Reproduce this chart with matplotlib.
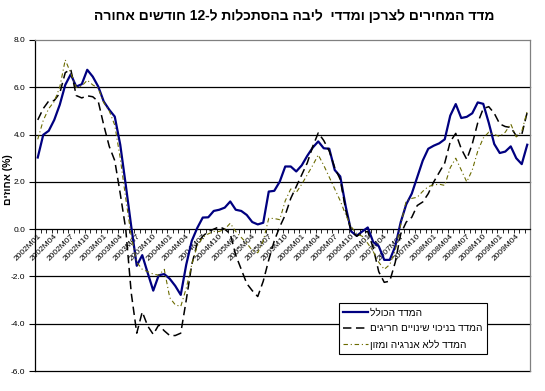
import re
import numpy as np
import matplotlib
matplotlib.use("Agg")
import matplotlib.pyplot as plt

plt.rcParams['font.family'] = ['Liberation Sans', 'DejaVu Sans']


def rtl(s):
    # matplotlib has no bidi: flip to visual order, keep numbers LTR, mirror brackets
    r = s[::-1]
    r = re.sub(r'\d+', lambda m: m.group(0)[::-1], r)
    return r.translate(str.maketrans('()', ')('))


# months 2002M01 .. 2009M06
months = [f"{y}M{m:02d}" for y in range(2002, 2010) for m in range(1, 13)][:90]

# overall CPI, 12-month change (%)
total = [3.03, 3.99, 4.16, 4.62, 5.26, 6.10, 6.55, 6.03, 6.13, 6.74,
         6.45, 6.03, 5.40, 5.05, 4.76, 3.57, 1.87, 0.11, -1.55, -1.10,
         -1.86, -2.60, -1.95, -1.90, -2.10, -2.40, -2.78, -1.50, -0.50, 0.05,
         0.49, 0.50, 0.77, 0.82, 0.91, 1.17, 0.82, 0.77, 0.60, 0.30,
         0.20, 0.27, 1.59, 1.62, 2.01, 2.65, 2.65, 2.44, 2.70, 3.10,
         3.45, 3.71, 3.42, 3.40, 2.50, 2.23, 0.95, -0.10, -0.28, -0.10,
         0.07, -0.55, -0.72, -1.30, -1.30, -0.73, 0.30, 1.05, 1.50, 2.20,
         2.90, 3.40, 3.53, 3.63, 3.80, 4.80, 5.29, 4.70, 4.75, 4.90,
         5.36, 5.30, 4.50, 3.60, 3.22, 3.28, 3.50, 3.00, 2.75, 3.57]

# CPI excluding extreme changes
excl = [4.62, 5.10, 5.42, 5.44, 5.75, 6.62, 6.76, 5.65, 5.55, 5.64,
        5.60, 5.40, 4.40, 3.50, 2.90, 1.50, 0.00, -2.70, -4.40, -3.50,
        -4.10, -4.45, -4.05, -4.30, -4.50, -4.50, -4.40, -3.00, -1.50, -0.60,
        -0.30, -0.10, 0.00, 0.10, 0.00, -0.20, -1.10, -1.70, -2.30, -2.60,
        -2.85, -2.20, -1.30, -0.50, 0.10, 0.60, 1.30, 1.80, 2.30, 2.80,
        3.50, 4.07, 3.75, 3.30, 2.60, 2.10, 0.80, -0.10, -0.30, -0.15,
        -0.10, -0.80, -1.80, -2.25, -2.20, -1.40, -0.20, 0.30, 0.50, 1.00,
        1.15, 1.50, 2.00, 2.40, 2.80, 3.70, 4.05, 3.40, 2.95, 3.60,
        4.50, 5.10, 5.18, 4.90, 4.45, 4.34, 4.30, 3.95, 4.00, 4.95]

# CPI excluding energy and food
core = [3.80, 4.60, 5.10, 5.40, 6.00, 7.16, 6.60, 6.00, 6.05, 6.30,
        6.10, 5.96, 5.35, 5.00, 4.40, 3.00, 1.30, -0.30, -1.40, -1.70,
        -1.80, -1.90, -1.95, -1.70, -2.90, -3.20, -3.27, -2.50, -1.50, -0.70,
        -0.35, -0.20, -0.10, -0.10, 0.00, 0.25, -0.10, -0.35, -0.60, -0.90,
        -1.00, -0.50, 0.46, 0.45, 0.40, 1.20, 1.70, 1.55, 1.90, 2.30,
        2.70, 3.14, 2.70, 2.20, 1.70, 1.20, 0.60, 0.10, -0.20, -0.30,
        -0.60, -0.95, -1.40, -1.70, -1.50, -0.90, 0.20, 1.20, 1.30, 1.35,
        1.60, 1.80, 1.87, 1.90, 1.85, 2.60, 3.00, 2.50, 2.00, 2.50,
        3.30, 3.85, 4.10, 4.00, 3.92, 4.10, 4.45, 3.90, 4.13, 5.00]

names = ['המדד הכולל', 'המדד בניכוי שינויים חריגים', 'המדד ללא אנרגיה ומזון']
title = 'מדד המחירים לצרכן ומדדי  ליבה בהסתכלות ל-12 חודשים אחורה'
ylabel = '(%) אחוזים'
yticks = [-6, -4, -2, 0, 2, 4, 6, 8]

fig = plt.figure(figsize=(5.45, 3.91), dpi=100)
ax = fig.add_axes([35 / 545, 1 - 371 / 391, 495 / 545, 331 / 391])

x = np.arange(len(months))
ax.plot(x, total, color='#000080', lw=1.6, label=rtl(names[0]), zorder=3)
ax.plot(x, excl, color='black', lw=1.1, dashes=(5.5, 3), label=rtl(names[1]), zorder=3)
ax.plot(x, core, color='#6b6b00', lw=0.8, dashes=(4, 2.5, 1, 2.5), label=rtl(names[2]), zorder=3)

ax.set_xlim(-0.5, len(months) - 0.5)
ax.set_ylim(-6, 8)
ax.set_yticks(yticks)
ax.set_yticklabels([f"{v:.1f}" for v in yticks], fontsize=6)
for v in yticks:
    if v not in (0, 8):
        ax.axhline(v, color='black', lw=0.9, zorder=1, clip_on=False)

ax.spines['bottom'].set_position(('data', 0))
ax.spines['top'].set_color('#808080')
ax.spines['right'].set_color('#808080')
for s in ax.spines.values():
    s.set_linewidth(0.9)

ax.set_xticks(x[::3])
ax.set_xticklabels(months[::3], fontsize=6, rotation=45, ha='right', va='top',
                   rotation_mode='anchor')
ax.set_xticks(np.arange(-0.5, len(months), 1), minor=True)
ax.tick_params(axis='x', which='major', length=0, pad=2.5)
ax.tick_params(axis='x', which='minor', length=3, direction='out')
ax.tick_params(axis='y', length=4, pad=3)

ax.legend(loc='lower left', bbox_to_anchor=(0.604, 0.036), fancybox=False,
          edgecolor='black', framealpha=1, fontsize=7.2, handlelength=2.5,
          borderpad=0.45, labelspacing=0.6, handletextpad=0.2).get_frame().set_linewidth(0.8)

fig.text(8 / 545, 1 - 180 / 391, rtl(ylabel), rotation=90, fontsize=7.5,
         fontweight='bold', ha='center', va='center')
fig.text(294 / 545, 1 - 16 / 391, rtl(title), fontsize=10, fontweight='bold',
         ha='center', va='center')

fig.savefig('out.png', dpi=100)
